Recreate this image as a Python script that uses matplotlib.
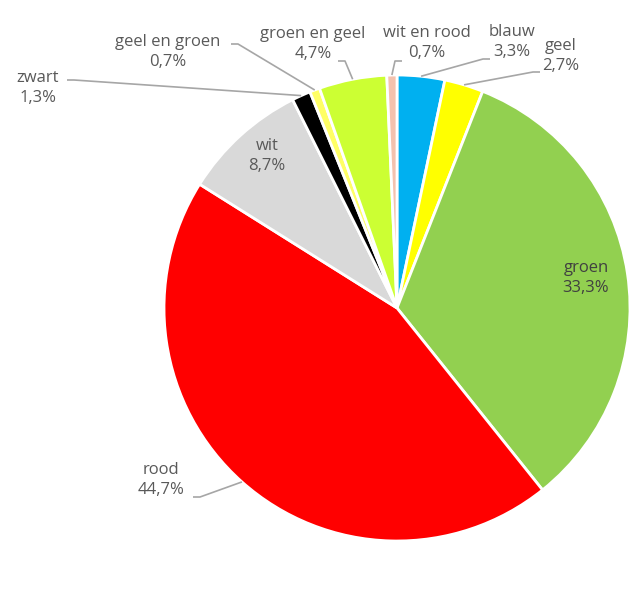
import numpy as np
import matplotlib.pyplot as plt

# kleuren in de volgorde van de taart (met de klok mee vanaf boven)
labels = ["blauw", "geel", "groen", "rood", "wit", "zwart",
          "geel en groen", "groen en geel", "wit en rood"]
percent = [3.3, 2.7, 33.3, 44.7, 8.7, 1.3, 0.7, 4.7, 0.7]
colors = ["#00B0F0", "#FFFF00", "#92D050", "#FF0000", "#D9D9D9", "#000000",
          "#FFFF66", "#CCFF33", "#F4C2AE"]

W, H = 636, 607
cx, cy, R = 397, H - 308, 233

fig = plt.figure(figsize=(W / 100, H / 100), dpi=100)
ax = fig.add_axes([0, 0, 1, 1])

wedges, _ = ax.pie(percent, colors=colors, startangle=90, counterclock=False,
                   radius=R, center=(cx, cy),
                   wedgeprops=dict(edgecolor="white", linewidth=2))
ax.set_xlim(0, W)
ax.set_ylim(0, H)
ax.set_aspect("equal")
ax.axis("off")


def img(x, y):
    return x, H - y


# label positie (beeld-pixels) en begin van de verbindingslijn
label_pos = {
    "blauw": ((512, 42), (490, 59)),
    "geel": ((561, 56), (540, 72)),
    "groen": ((586, 278), None),
    "rood": ((161, 480), (193, 497)),
    "wit": ((267, 156), None),
    "zwart": ((38, 88), (67, 80)),
    "geel en groen": ((168, 52), (231, 44)),
    "groen en geel": ((313, 44), (338, 61)),
    "wit en rood": ((427, 43), (402, 61)),
}

font = "Open Sans"
for w, name, p in zip(wedges, labels, percent):
    (tx, ty), start = label_pos[name]
    txt = f"{name}\n{p:.1f}%".replace(".", ",")
    col = "#404040" if name == "groen" else "#595959"
    ax.text(*img(tx, ty), txt, ha="center", va="center", fontsize=12,
            family=font, color=col, linespacing=1.3)
    if start is None:
        continue
    ang = np.deg2rad((w.theta1 + w.theta2) / 2)
    ex, ey = cx + R * np.cos(ang), cy + R * np.sin(ang)
    sx, sy = img(*start)
    step = 7 if ex > sx else -7
    ax.plot([sx, sx + step, ex], [sy, sy, ey], color="#A6A6A6", lw=1.2,
            solid_capstyle="butt")

fig.savefig("out.png", dpi=100, facecolor="white")
